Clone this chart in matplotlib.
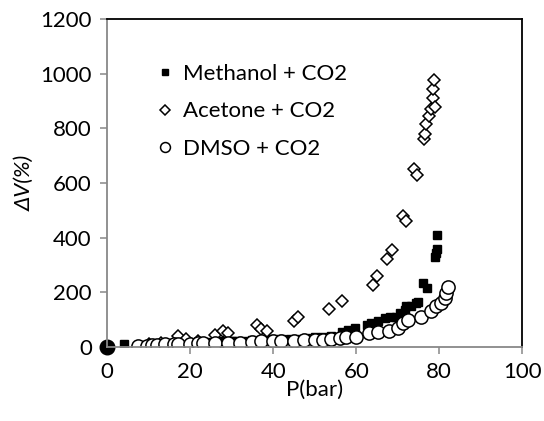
import matplotlib.pyplot as plt

plt.rcParams['font.family'] = ['Lato', 'DejaVu Sans']

# P (bar) and volume expansion dV (%) for each solvent + CO2
methanol_p = [0, 4, 10, 12, 14, 18, 20, 21, 22, 25, 27, 29, 30, 31, 33, 35, 37, 38,
              40, 42, 44, 46, 48, 50, 52, 54, 56.5, 58, 59.7, 62.5, 63.5, 65.3, 66.9,
              68.1, 69.7, 70.5, 71.7, 72.1, 73.3, 74.5, 74.8, 76.1, 77, 79, 79.3, 79.5, 79.5]
methanol_dv = [0, 10, 8, 10, 12, 14, 15, 16, 18, 18, 20, 20, 22, 22, 22, 24, 25, 26,
               28, 28, 30, 30, 32, 35, 38, 40, 56, 62, 69, 81, 87, 93, 105,
               111, 111, 123, 136, 148, 148, 160, 166, 234, 215, 329, 345, 358, 411]

acetone_p = [0, 10, 13, 17, 19, 22, 26, 28, 29, 36, 37, 38.5, 45, 46, 53.5, 56.5, 64,
             65, 67.3, 68.7, 71.3, 72, 74, 74.7, 76.4, 76.5, 76.9, 77.6, 77.9, 78.5,
             78.9, 78.5, 78.8]
acetone_dv = [0, 10, 15, 40, 30, 20, 45, 60, 50, 80, 65, 60, 95, 110, 140, 168, 228,
              258, 320, 355, 480, 460, 650, 630, 760, 778, 815, 845, 870, 909,
              876, 943, 975]

dmso_p = [0, 7.5, 9.5, 10.7, 12, 14, 16, 17, 20, 22, 23, 26, 29, 32, 35, 37, 40, 42,
          45, 47.5, 50, 52, 54, 56, 57.5, 60, 63, 65.3, 68, 70.1, 71.3, 72.5, 75.5,
          78, 79.3, 80.5, 81.3, 81.7, 82.1]
dmso_dv = [0, 5, 5, 8, 8, 10, 10, 12, 12, 14, 15, 15, 16, 16, 18, 20, 20, 22,
           22, 24, 25, 27, 30, 32, 35, 38, 50, 56, 60, 69, 87, 99, 111,
           130, 148, 160, 179, 197, 221]

origin_p = [0]
origin_dv = [0]

fig = plt.figure(figsize=(5.44, 4.21), dpi=100)
ax = fig.add_axes([0.197, 0.176, 0.763, 0.779])

ax.plot(methanol_p, methanol_dv, ls='none', marker='s', ms=5.8, color='black',
        label='Methanol + CO2')
ax.plot(acetone_p, acetone_dv, ls='none', marker='D', ms=6.2, mfc='white',
        mec='black', mew=1.1, label='Acetone + CO2')
ax.plot(dmso_p, dmso_dv, ls='none', marker='o', ms=9.5, mfc='white',
        mec='black', mew=1.1, label='DMSO + CO2')
ax.plot(origin_p, origin_dv, ls='none', marker='o', ms=10.5, color='black',
        clip_on=False)

ax.set_xlim(0, 100)
ax.set_ylim(0, 1200)
ax.set_xticks(range(0, 101, 20))
ax.set_yticks(range(0, 1201, 200))

for side in ['left', 'bottom']:
    ax.spines[side].set_color('#888888')
    ax.spines[side].set_linewidth(1.3)
for side in ['top', 'right']:
    ax.spines[side].set_color('black')
    ax.spines[side].set_linewidth(1.3)

ax.tick_params(axis='both', direction='out', length=5, width=1.1,
               color='#888888', labelsize=16, pad=6)

ax.set_xlabel('P(bar)', fontsize=16, labelpad=-2)
ax.set_ylabel('ΔV(%)', fontsize=16, fontstyle='italic', labelpad=4)

ax.legend(loc='upper left', bbox_to_anchor=(0.076, 0.925), frameon=False,
          fontsize=16, markerscale=0.75, handlelength=0.6, handletextpad=0.5,
          labelspacing=0.8)

fig.savefig('out.png', dpi=100)
